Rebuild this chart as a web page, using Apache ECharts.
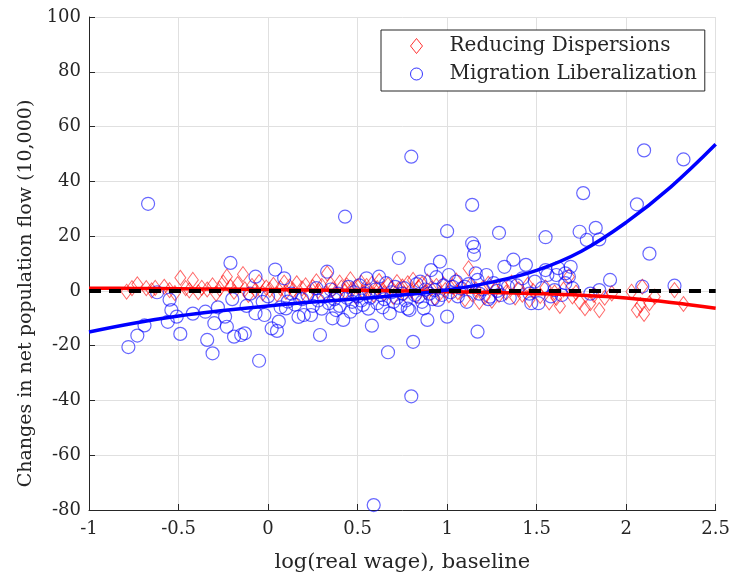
<!DOCTYPE html>
<html><head><meta charset="utf-8">
<script src="https://cdn.jsdelivr.net/npm/echarts@6/dist/echarts.min.js"></script>
<style>html,body{margin:0;padding:0;background:#fff}#c{width:733px;height:582px}</style>
</head><body><div id="c"></div>
<script>
const xTicks = [-1,-0.5,0,0.5,1,1.5,2,2.5];
const yTicks = [-80,-60,-40,-20,0,20,40,60,80,100];
const seriesNames = ['Reducing Dispersions','Migration Liberalization'];

const redPoints = [
[-0.79,-0.3],[-0.76,1.0],[-0.73,2.4],[-0.68,1.0],[-0.65,0.2],[-0.63,1.1],[-0.58,1.5],[-0.55,0.3],[-0.52,-0.8],[-0.49,4.8],[-0.46,1.0],[-0.44,0.2],[-0.42,4.0],[-0.39,-0.5],[-0.37,1.1],[-0.34,0.5],[-0.31,2.0],[-0.29,-1.0],[-0.27,0.8],[-0.25,3.0],[-0.23,5.2],[-0.21,1.5],[-0.19,-0.3],[-0.17,2.5],[-0.14,6.1],[-0.13,0.6],[-0.11,-1.5],[-0.09,1.8],[-0.07,0.2],[-0.05,3.2],[-0.03,-0.8],[-0.01,1.2],
[0.01,0.4],[0.03,2.2],[0.05,-1.2],[0.07,1.0],[0.09,3.0],[0.1,-0.4],[0.12,1.6],[0.14,0.3],[0.16,2.8],[0.18,-1.8],[0.19,0.9],[0.21,2.0],[0.23,-0.6],[0.25,1.4],[0.27,3.5],[0.28,0.0],[0.3,1.8],[0.32,-1.0],[0.33,6.4],[0.35,2.4],[0.36,0.5],[0.38,-1.5],[0.4,3.0],[0.41,1.2],[0.43,-0.2],[0.44,2.0],[0.46,4.2],[0.47,0.6],[0.49,-2.0],[0.5,1.5],
[0.52,3.0],[0.53,-0.5],[0.55,1.8],[0.56,0.2],[0.58,2.6],[0.59,-1.5],[0.61,1.0],[0.62,3.6],[0.64,0.4],[0.65,-0.8],[0.67,2.2],[0.69,1.0],[0.7,-2.2],[0.72,3.2],[0.73,0.6],[0.75,1.6],[0.76,-1.0],[0.78,2.8],[0.8,0.2],[0.81,4.0],[0.83,-1.8],[0.84,1.2],[0.86,2.6],[0.88,-0.4],[0.89,3.4],[0.91,0.8],[0.93,-2.6],[0.94,1.8],[0.96,-0.8],[0.98,2.4],[0.99,0.3],
[1.01,-1.6],[1.03,1.6],[1.05,3.8],[1.06,-0.5],[1.08,1.0],[1.1,-3.0],[1.12,8.2],[1.13,2.0],[1.14,-1.2],[1.16,0.6],[1.18,-4.0],[1.2,1.0],[1.21,-2.2],[1.23,2.6],[1.25,-3.6],[1.27,0.4],[1.29,-1.5],[1.31,1.8],[1.33,-0.6],[1.36,3.0],[1.38,-2.4],[1.4,0.6],[1.42,-1.4],[1.45,2.2],[1.46,-3.3],[1.48,0.0],
[1.52,-1.8],[1.55,1.2],[1.57,-4.2],[1.6,-0.6],[1.61,-2.6],[1.63,-5.5],[1.65,0.5],[1.68,5.2],[1.7,-2.0],[1.72,-0.6],[1.74,-4.0],[1.77,-6.3],[1.8,-4.5],[1.82,-1.5],[1.85,-7.0],[1.88,-2.5],[1.92,-0.9],[2.03,-0.3],[2.06,-7.0],[2.08,-5.2],[2.09,1.5],[2.1,-8.4],[2.13,-4.5],[2.16,-2.1],[2.27,0.3],[2.32,-4.8]
];

const bluePoints = [
[-0.78,-20.5],[-0.73,-16.3],[-0.69,-12.6],[-0.67,31.8],[-0.62,-0.5],[-0.56,-11.3],[-0.55,-3.2],[-0.54,-7.0],[-0.51,-9.4],[-0.49,-15.7],[-0.42,-8.3],[-0.35,-7.6],[-0.34,-17.9],[-0.31,-22.8],[-0.30,-11.8],[-0.28,-6.0],[-0.24,-9.4],[-0.23,-13.1],[-0.21,10.2],[-0.20,-3.0],[-0.19,-16.7],[-0.15,-16.1],[-0.13,-15.5],[-0.12,-5.5],[-0.1,-1.0],[-0.07,5.2],[-0.07,-8.2],[-0.05,-25.5],[-0.03,-4.0],[-0.02,-8.8],[0.0,-2.0],[0.02,-13.7],[0.04,7.8],[0.05,-14.6],[0.06,-11.2],[0.07,-6.0],[0.09,4.6],[0.1,-6.4],[0.11,-3.9],[0.13,-1.0],[0.15,-5.0],[0.17,-9.5],[0.19,-3.0],[0.2,-8.8],[0.22,-1.5],[0.24,-8.8],[0.25,-5.5],[0.27,1.0],[0.28,-3.5],[0.29,-16.1],[0.30,-6.5],[0.31,-2.0],[0.33,7.0],[0.34,-4.5],[0.35,0.5],[0.36,-10.0],[0.37,-3.0],[0.38,-7.0],[0.39,-1.0],[0.40,-5.5],[0.42,-10.6],[0.43,27.1],[0.44,-2.5],[0.45,1.5],[0.46,-7.6],[0.47,-4.0],[0.48,-0.5],[0.49,-6.0],[0.50,-2.0],[0.51,2.0],[0.52,-3.5],[0.53,-5.1],[0.54,-1.0],[0.55,4.6],[0.56,-6.5],[0.57,-2.5],[0.58,-12.7],[0.59,-78.2],[0.60,0.5],[0.61,-4.5],[0.62,5.2],[0.63,-1.5],[0.64,-6.0],[0.65,-3.0],[0.66,2.8],[0.67,-22.4],[0.68,-8.2],[0.69,-0.5],[0.70,-4.0],[0.71,1.5],[0.72,-2.5],[0.73,12.0],[0.74,-5.5],[0.75,-1.0],[0.76,1.0],[0.77,-3.5],[0.78,-6.5],[0.79,-7.0],[0.80,49.0],[0.80,-38.5],[0.81,-18.6],[0.82,-1.5],[0.83,2.5],[0.84,-2.1],[0.85,3.4],[0.86,-4.0],[0.87,-6.4],[0.88,0.5],[0.89,-10.6],[0.9,-1.0],[0.91,7.6],[0.92,-3.0],[0.93,0.3],[0.94,5.0],[0.95,-3.3],[0.96,10.7],[0.97,-1.5],[0.98,2.0],[1.0,21.8],[1.0,-9.4],[1.01,5.8],[1.02,-0.5],[1.03,1.5],[1.05,3.4],[1.06,-2.0],[1.08,0.8],[1.10,1.5],[1.11,-4.0],[1.12,2.5],[1.14,31.4],[1.14,17.4],[1.15,16.1],[1.15,13.2],[1.16,6.4],[1.17,4.0],[1.17,-14.9],[1.18,-1.0],[1.20,0.5],[1.22,5.8],[1.23,-3.0],[1.24,-2.1],[1.26,2.8],[1.28,0.0],[1.29,21.2],[1.30,-1.5],[1.32,8.8],[1.34,1.5],[1.35,-2.5],[1.37,11.4],[1.39,2.0],[1.42,4.6],[1.44,9.5],[1.46,-1.0],[1.47,-4.5],[1.49,3.4],[1.51,-4.5],[1.53,1.0],[1.55,19.6],[1.55,7.6],[1.56,5.8],[1.58,-2.0],[1.60,0.3],[1.61,5.8],[1.62,8.3],[1.64,-1.5],[1.66,2.8],[1.66,6.4],[1.68,5.2],[1.69,8.8],[1.70,1.0],[1.74,21.6],[1.76,35.7],[1.78,18.6],[1.80,-1.0],[1.83,23.0],[1.85,18.8],[1.85,0.3],[1.91,4.0],[2.06,31.6],[2.09,1.6],[2.10,51.3],[2.13,13.6],[2.27,1.9],[2.32,48.0]
];

const fitX    = [-1,-0.75,-0.5,-0.25,0,0.25,0.5,0.75,1,1.25,1.5,1.75,2,2.25,2.5];
const blueFit = [-15,-11.8,-9.2,-7.2,-5.5,-4.1,-2.9,-1.5,0.3,3.2,7.5,14.5,25,38,53.5];
const redFit  = [1.0,0.9,0.8,0.65,0.5,0.35,0.2,0.0,-0.3,-0.6,-1.0,-1.6,-2.6,-4.2,-6.3];
const zeroLine = [[-1,0],[2.5,0]];

const FONT = 'DejaVu Serif';
const chart = echarts.init(document.getElementById('c'), null, {renderer:'canvas'});
chart.setOption({
  animation:false,
  backgroundColor:'#fff',
  grid:{left:89,right:16,top:17,bottom:72,containLabel:false},
  xAxis:{type:'value',min:-1,max:2.5,interval:0.5,
    name:'log(real wage), baseline',nameLocation:'middle',nameGap:42,
    nameTextStyle:{fontFamily:FONT,fontSize:21,color:'#262626'},
    axisLine:{show:true,onZero:false,lineStyle:{color:'#262626',width:1}},
    axisTick:{show:true,inside:true,length:6,lineStyle:{color:'#262626'}},
    axisLabel:{fontFamily:FONT,fontSize:18,color:'#262626',margin:10,
      formatter:v=>xTicks.includes(v)?String(v):''},
    splitLine:{show:true,lineStyle:{color:'#e0e0e0',width:1}}},
  yAxis:{type:'value',min:-80,max:100,interval:20,
    name:'Changes in net population flow (10,000)',nameLocation:'middle',nameGap:52,
    nameTextStyle:{fontFamily:FONT,fontSize:19,color:'#262626',padding:[0,60,0,0]},
    axisLine:{show:true,onZero:false,lineStyle:{color:'#262626',width:1}},
    axisTick:{show:true,inside:true,length:6,lineStyle:{color:'#262626'}},
    axisLabel:{fontFamily:FONT,fontSize:18,color:'#262626',margin:8,
      formatter:v=>yTicks.includes(v)?String(v):''},
    splitLine:{show:true,lineStyle:{color:'#e0e0e0',width:1}}},
  legend:{left:381,top:30,orient:'vertical',
    backgroundColor:'#fff',borderColor:'#262626',borderWidth:1,
    padding:[6,8,7,29],itemGap:8,itemWidth:12,itemHeight:15,
    textStyle:{fontFamily:FONT,fontSize:20,color:'#262626',lineHeight:20,padding:[0,0,0,22]},
    data:[
      {name:seriesNames[0],icon:'diamond',itemStyle:{color:'#fff',borderColor:'#ff0000',borderWidth:1}},
      {name:seriesNames[1],icon:'circle',itemStyle:{color:'#fff',borderColor:'#0000ff',borderWidth:1}}
    ]},
  series:[
    {name:seriesNames[0],type:'scatter',symbol:'diamond',symbolSize:[11,15],
      data:redPoints,itemStyle:{color:'rgba(0,0,0,0)',borderColor:'rgba(255,0,0,0.75)',borderWidth:1},z:2},
    {name:seriesNames[1],type:'scatter',symbol:'circle',symbolSize:13,
      data:bluePoints,itemStyle:{color:'rgba(0,0,0,0)',borderColor:'rgba(0,0,255,0.75)',borderWidth:1.2},z:3},
    {type:'line',data:fitX.map((x,i)=>[x,redFit[i]]),smooth:0.4,showSymbol:false,
      lineStyle:{color:'#ff0000',width:3.5},z:4},
    {type:'line',data:fitX.map((x,i)=>[x,blueFit[i]]),smooth:0.4,showSymbol:false,
      lineStyle:{color:'#0000ff',width:3.5},z:5},
    {type:'line',data:zeroLine,showSymbol:false,
      lineStyle:{color:'#000',width:4,type:[12,8]},z:6}
  ]
});
</script></body></html>
